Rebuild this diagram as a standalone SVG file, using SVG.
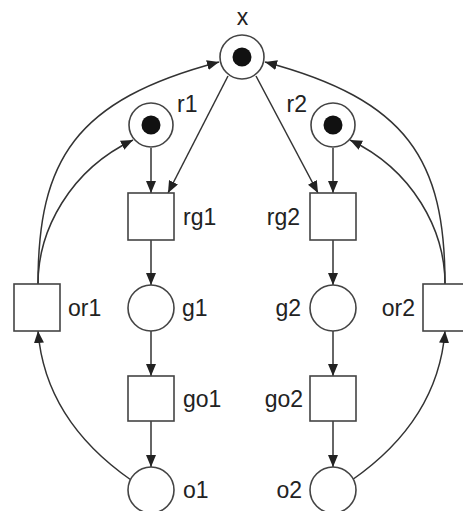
<svg xmlns="http://www.w3.org/2000/svg" width="463" height="511" viewBox="0 0 463 511">
<style>
.pl{fill:#fff;stroke:#444;stroke-width:1.6}
.tr{fill:#fff;stroke:#444;stroke-width:1.6}
.tk{fill:#111}
.lbl{font-family:"Liberation Sans",Arial,sans-serif;font-size:23px;fill:#222}
.e{text-anchor:end}
.arc{fill:none;stroke:#333;stroke-width:1.5;marker-end:url(#ah)}
</style>
<defs>
<marker id="ah" markerUnits="userSpaceOnUse" markerWidth="12" markerHeight="10" refX="12" refY="5" orient="auto">
<path d="M0,0 L12,5 L0,10 z" fill="#222"/>
</marker>
</defs>
<rect width="463" height="511" fill="#fff"/>
<g id="connectors">
<path class="arc" d="M228 76 L168 193"/>
<path class="arc" d="M151 148 L151 193"/>
<path class="arc" d="M256 76 L318 193"/>
<path class="arc" d="M333 148 L333 193"/>
<path class="arc" d="M151 240 L151 285"/>
<path class="arc" d="M151 331 L151 376"/>
<path class="arc" d="M151 421 L151 467"/>
<path class="arc" d="M333 240 L333 285"/>
<path class="arc" d="M333 331 L333 376"/>
<path class="arc" d="M333 421 L333 467"/>
<path class="arc" d="M38 284 C38 160 75 100 219 62"/>
<path class="arc" d="M38 284 C38 230 70 170 133 140"/>
<path class="arc" d="M445 284 C445 160 408 100 265 62"/>
<path class="arc" d="M445 284 C445 230 413 170 350 140"/>
<path class="arc" d="M131 480 Q45 420 38 331"/>
<path class="arc" d="M352 480 Q438 420 445 331"/>
</g>
<g id="x"><circle class="pl" cx="242" cy="57" r="22"/><circle class="tk" cx="242" cy="57" r="9.5"/><text class="lbl" x="242.5" y="25" text-anchor="middle">x</text></g>
<g id="r1"><circle class="pl" cx="151" cy="125" r="22"/><circle class="tk" cx="151" cy="125" r="9.5"/><text class="lbl" x="177" y="112">r1</text></g>
<g id="r2"><circle class="pl" cx="333" cy="125" r="22"/><circle class="tk" cx="333" cy="125" r="9.5"/><text class="lbl e" x="307" y="112">r2</text></g>
<g id="rg1"><rect class="tr" x="128" y="193" width="46" height="47"/><text class="lbl" x="183" y="225">rg1</text></g>
<g id="rg2"><rect class="tr" x="310" y="193" width="46" height="47"/><text class="lbl e" x="300" y="225">rg2</text></g>
<g id="g1"><circle class="pl" cx="151" cy="308" r="23"/><text class="lbl" x="182" y="316">g1</text></g>
<g id="g2"><circle class="pl" cx="333" cy="308" r="23"/><text class="lbl e" x="301" y="316">g2</text></g>
<g id="go1"><rect class="tr" x="128" y="376" width="46" height="45"/><text class="lbl" x="183" y="407">go1</text></g>
<g id="go2"><rect class="tr" x="310" y="376" width="46" height="45"/><text class="lbl e" x="303" y="407">go2</text></g>
<g id="o1"><circle class="pl" cx="151" cy="490" r="23"/><text class="lbl" x="183" y="498">o1</text></g>
<g id="o2"><circle class="pl" cx="333" cy="490" r="23"/><text class="lbl e" x="302" y="498">o2</text></g>
<g id="or1"><rect class="tr" x="14" y="284" width="46" height="47"/><text class="lbl" x="68" y="316">or1</text></g>
<g id="or2"><rect class="tr" x="423" y="284" width="46" height="47"/><text class="lbl e" x="415" y="316">or2</text></g>
</svg>
